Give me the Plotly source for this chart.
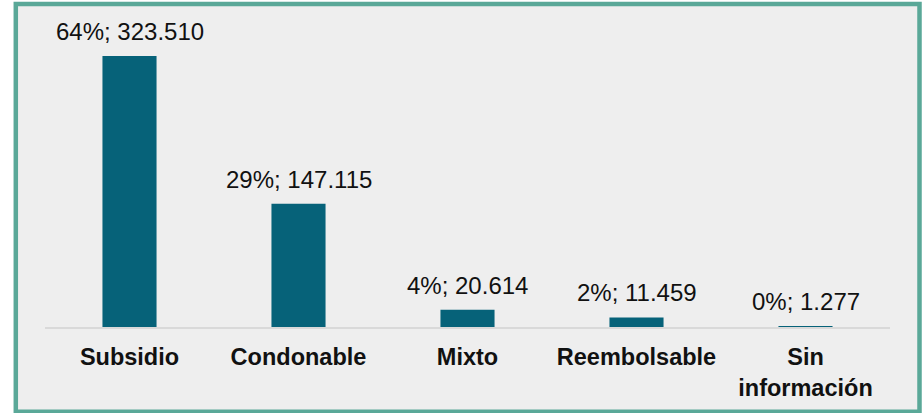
import plotly.graph_objects as go

categories = ["Subsidio", "Condonable", "Mixto", "Reembolsable", "Sin<br>información"]
values = [323510, 147115, 20614, 11459, 1277]
percents = ["64%", "29%", "4%", "2%", "0%"]
value_labels = ["323.510", "147.115", "20.614", "11.459", "1.277"]

W, H = 922, 413
ML, MR, MT, MB = 45, 32, 20, 86
PW, PH = W - ML - MR, H - MT - MB

def px_x(p):
    return (p - ML) / PW

def px_y(p):
    return (H - MB - p) / PH

bar_color = "#066279"
font_family = "Arial, Liberation Sans, sans-serif"

fig = go.Figure()
fig.add_trace(go.Bar(
    x=categories, y=values, marker=dict(color=bar_color, line=dict(width=0)),
    width=0.32, hoverinfo="skip",
))

annotations = []
for c, v, p, l in zip(categories, values, percents, value_labels):
    annotations.append(dict(
        x=c, y=v, xref="x", yref="y", text=f"{p}; {l}", showarrow=False,
        yanchor="bottom", yshift=9,
        font=dict(family=font_family, size=24, color="#111111"),
    ))

fig.update_layout(
    width=W, height=H,
    margin=dict(l=ML, r=MR, t=MT, b=MB),
    paper_bgcolor="white",
    plot_bgcolor="rgba(0,0,0,0)",
    showlegend=False,
    bargap=0.68,
    annotations=annotations,
    shapes=[dict(
        type="rect", xref="paper", yref="paper", layer="below",
        x0=px_x(15.8), x1=px_x(919.5), y0=px_y(411.8), y1=px_y(3.9),
        fillcolor="#eeeeee", line=dict(color="#5aa898", width=4.5),
    )],
    xaxis=dict(
        showline=True, linecolor="#d9d9d9", linewidth=2,
        showgrid=False, zeroline=False, fixedrange=True,
        ticks="outside", ticklen=8, tickcolor="rgba(0,0,0,0)",
        tickfont=dict(family=font_family, size=23.5, color="#111111", weight="bold"),
    ),
    yaxis=dict(
        range=[0, 366500], visible=False, showgrid=False, zeroline=False, fixedrange=True,
    ),
)

fig.write_html(
    "out.html",
    config={"displayModeBar": False, "staticPlot": True},
    post_script="document.body.style.margin='0';document.body.style.padding='0';document.body.style.overflow='hidden';",
)
